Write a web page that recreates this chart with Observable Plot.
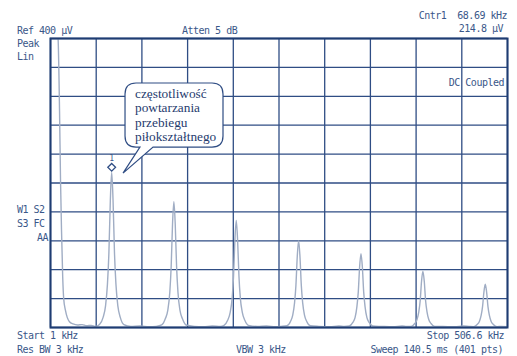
<!DOCTYPE html>
<html><head><meta charset="utf-8">
<script src="https://cdn.jsdelivr.net/npm/d3@7"></script>
<script src="https://cdn.jsdelivr.net/npm/@observablehq/plot@0.6"></script>
<style>
body{margin:0;background:#fff}
#chart{position:relative;width:517px;height:356px}
</style>
</head><body><div id="chart"></div>
<script>
// Frequency span (kHz) and reference level (µV)
const xDivs = [1, 51.56, 102.12, 152.68, 203.24, 253.8, 304.36, 354.92, 405.48, 456.04, 506.6];
const yDivs = [0, 40, 80, 120, 160, 200, 240, 280, 320, 360, 400];

// Trace segments: [kHz, µV]
const dcFlank = [[1,470],[5,455],[9.4,400],[11,300],[12.1,203],[13.2,134],[14.5,70],[15.6,40],[17.5,24],[19.5,14],[22,8],[26,5],[31,3.5],[36,4],[41,2.5],[46,3],[51,1.5]];
const peak1 = [[55.2,4],[59.2,14],[61.9,30],[64,60],[65.6,103],[67.2,176],[68.69,214.8],[70.2,176],[71.8,103],[73.4,60],[75.5,30],[78.2,14],[82.2,4]];
const floor1 = [[90,1.5],[100,2],[110,1],[118,1.5]];
const peak2 = [[124,3.5],[128,12],[130.8,24],[133,49],[134.5,84],[136,143],[137.5,174],[139,143],[140.5,84],[142,49],[144.2,24],[147,12],[151,3.5]];
const floor2 = [[160,1.5],[170,1],[180,2],[189,1.5]];
const peak3 = [[193,3],[197,10],[199.8,21],[202,41],[203.5,71],[205,121],[206.5,148],[208,121],[209.5,71],[211,41],[213.2,21],[216,10],[220,3]];
const floor3 = [[230,1.5],[240,2],[250,1],[256,1.5]];
const peak4 = [[262.5,2.4],[266.5,8.4],[269,17],[271,34],[272.5,58],[274,98],[275.5,120],[277,98],[278.5,58],[280,34],[282,17],[284.5,8.4],[288.5,2.4]];
const floor4 = [[298,1.5],[310,1],[320,2],[326,1.5]];
const peak5 = [[331.5,2],[335.5,7],[338,14],[340,29],[341.5,49],[343,84],[344.5,102],[346,84],[347.5,49],[349,29],[351,14],[353.5,7],[357.5,2]];
const floor5 = [[367,1.5],[380,1],[390,2],[395,1.5]];
const peak6 = [[400,1.6],[404,5.5],[406.5,11],[408.5,22],[410,37],[411.5,64],[413,78],[414.5,64],[416,37],[417.5,22],[419.5,11],[422,5.5],[426,1.6]];
const floor6 = [[435,1.5],[448,1],[458,2],[464,1.5]];
const peak7 = [[469,1.2],[473,4.2],[475.5,8.4],[477.5,17],[479,29],[480.5,49],[482,60],[483.5,49],[485,29],[486.5,17],[488.5,8.4],[491,4.2],[495,1.2]];
const tail = [[500,1.5],[506.6,1]];

const marker = {f: 68.69, v: 214.8, label: "1"};

const topLabels = ["Ref 400 µV", "Atten 5 dB", "Cntr1  68.69 kHz", "214.8 µV"];
const sideLabels = ["Peak", "Lin", "W1 S2", "S3 FC", "AA", "DC Coupled"];
const bottomLabels = ["Start 1 kHz", "Res BW 3 kHz", "VBW 3 kHz", "Stop 506.6 kHz", "Sweep 140.5 ms (401 pts)"];
const calloutLines = ["częstotliwość", "powtarzania", "przebiegu", "piłokształtnego"];

const trace = [...dcFlank, ...peak1, ...floor1, ...peak2, ...floor2, ...peak3, ...floor3, ...peak4, ...floor4, ...peak5, ...floor5, ...peak6, ...floor6, ...peak7, ...tail];

const gridColor = "#2f4d84";
const textColor = "#3a5789";

const chart = Plot.plot({
  width: 517, height: 356,
  marginLeft: 50, marginRight: 10, marginTop: 38, marginBottom: 29,
  x: {domain: [1, 506.6], axis: null},
  y: {domain: [0, 400], axis: null},
  style: {background: "#fff", overflow: "visible"},
  marks: [
    Plot.ruleX(xDivs, {stroke: gridColor, strokeWidth: 1.3}),
    Plot.ruleY(yDivs, {stroke: gridColor, strokeWidth: 1.3}),
    Plot.line(trace, {x: d => d[0], y: d => d[1], stroke: "#a0adc4", strokeWidth: 1.4, curve: "monotone-x", clip: true}),
    Plot.dot([marker], {x: "f", y: "v", symbol: "diamond2", r: 3.5, stroke: gridColor, strokeWidth: 1.3, fill: "white", dy: -5}),
    Plot.text([marker], {x: "f", y: "v", text: "label", dy: -14, fontSize: 8, fill: textColor, fontFamily: "DejaVu Sans Mono"}),
    Plot.frame({stroke: "#1e3c72", strokeWidth: 2})
  ]
});
document.getElementById("chart").appendChild(chart);

const svg = d3.select(chart);
const sx = chart.scale("x"), sy = chart.scale("y");

// Callout balloon anchored in data coordinates
const L = sx.apply(84), R = sx.apply(192.4), T = sy.apply(337.7), B = sy.apply(249);
const tipX = sx.apply(81.8), tipY = sy.apply(213);
const t1 = sx.apply(100.5), t2 = sx.apply(115);
const r = 11;
const p = d3.path();
p.moveTo(L + r, T);
p.lineTo(R - r, T); p.quadraticCurveTo(R, T, R, T + r);
p.lineTo(R, B - r); p.quadraticCurveTo(R, B, R - r, B);
p.lineTo(t2, B); p.lineTo(tipX, tipY); p.lineTo(t1, B);
p.lineTo(L + r, B); p.quadraticCurveTo(L, B, L, B - r);
p.lineTo(L, T + r); p.quadraticCurveTo(L, T, L + r, T);
p.closePath();
svg.append("path").attr("d", p.toString()).attr("fill", "#fff").attr("stroke", gridColor).attr("stroke-width", 1.2);
calloutLines.forEach((s, i) => {
  svg.append("text").text(s)
    .attr("x", L + 10).attr("y", T + 15 + i * 14.3)
    .attr("text-anchor", "start")
    .attr("font-family", "Liberation Serif, Times New Roman, serif")
    .attr("font-size", 13.3).attr("fill", "#1f3b6e");
});

function label(s, x, y, anchor) {
  svg.append("text").text(s)
    .attr("x", x).attr("y", y).attr("text-anchor", anchor || "start")
    .attr("font-family", "DejaVu Sans Mono, monospace").attr("font-size", 10)
    .attr("letter-spacing", -0.5).attr("fill", textColor)
    .style("white-space", "pre");
}
label(topLabels[0], 17, 34);
label(topLabels[1], 182, 34);
label(topLabels[2], 507, 19, "end");
label(topLabels[3], 503, 32, "end");
label(sideLabels[0], 17, 47);
label(sideLabels[1], 17, 60);
label(sideLabels[2], 17, 213);
label(sideLabels[3], 17, 227);
label(sideLabels[4], 48, 241, "end");
label(sideLabels[5], 504, 86, "end");
label(bottomLabels[0], 17, 339);
label(bottomLabels[1], 17, 353);
label(bottomLabels[2], 236, 353);
label(bottomLabels[3], 504, 339, "end");
label(bottomLabels[4], 503, 353, "end");
</script>
</body></html>
